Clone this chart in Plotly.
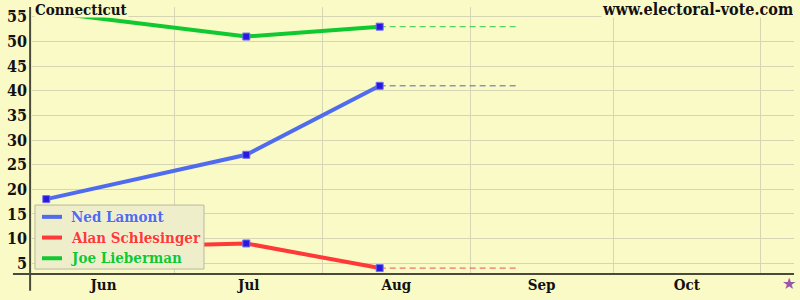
import plotly.graph_objects as go

dates = ["2006-06-04", "2006-07-16", "2006-08-13"]
proj_end = "2006-09-11"
election_day = "2006-11-07"
names = ["Ned Lamont", "Alan Schlesinger", "Joe Lieberman"]
lamont = [18, 27, 41]
schlesinger = [8, 9, 4]
lieberman = [56, 51, 53]
series = [lamont, schlesinger, lieberman]
colors = ["#4F6BEE", "#FF3838", "#10C830"]
dash_colors = ["#5A62B0", "#F05050", "#30C850"]
y_ticks = [5, 10, 15, 20, 25, 30, 35, 40, 45, 50, 55]

BG = "#FAFAC6"
GRID = "#D6D6B4"
FONT = "DejaVu Serif Condensed, DejaVu Serif"

fig = go.Figure()
for name, vals, col, dcol in zip(names, series, colors, dash_colors):
    fig.add_trace(go.Scatter(
        x=dates, y=vals, mode="lines", line=dict(color=col, width=4),
        name=name, showlegend=False))
    fig.add_trace(go.Scatter(
        x=[dates[-1], proj_end], y=[vals[-1], vals[-1]], mode="lines",
        line=dict(color=dcol, width=1, dash="6px,4px"), name=name,
        showlegend=False))
for name, vals in zip(names, series):
    fig.add_trace(go.Scatter(
        x=dates, y=vals, mode="markers", name=name,
        marker=dict(symbol="square", size=7, color="#2818E0",
                    line=dict(color="#7070F0", width=1)),
        showlegend=False))

fig.update_layout(
    width=800, height=300,
    margin=dict(l=32, r=6, t=7, b=22),
    paper_bgcolor=BG, plot_bgcolor=BG,
    font=dict(family=FONT, size=15, color="#111111"),
    showlegend=False,
    xaxis=dict(
        type="date", range=["2006-06-01", "2006-11-08"],
        tick0="2006-06-01", dtick="M1", tickformat="%b",
        ticklabelmode="period", showgrid=True, gridcolor=GRID, gridwidth=1,
        ticks="", showline=False, zeroline=False,
        tickfont=dict(family=FONT, size=15, weight="bold")),
    yaxis=dict(
        range=[2.8, 57.0], tickvals=y_ticks, showgrid=True,
        gridcolor=GRID, gridwidth=1, ticks="", showline=False,
        zeroline=False, ticklabelstandoff=4,
        tickfont=dict(family=FONT, size=16, weight="bold")),
)

# axis lines
fig.add_shape(type="line", xref="paper", yref="paper",
              x0=-0.025, x1=1.0, y0=0, y1=0,
              line=dict(color="#4A4A3A", width=2))
fig.add_shape(type="line", xref="paper", yref="paper",
              x0=-0.0025, x1=-0.0025, y0=-0.0627, y1=1.0,
              line=dict(color="#4A4A3A", width=2))

# legend box (drawn above the traces)
fig.add_shape(type="rect", xref="paper", yref="paper", layer="above",
              x0=0.0039, x1=0.2257, y0=0.0185, y1=0.2583,
              fillcolor="#EEEECA", line=dict(color="#B8B8A0", width=1))
row_y = [0.214, 0.1365, 0.059]
for name, col, ry in zip(names, colors, row_y):
    fig.add_shape(type="line", xref="paper", yref="paper", layer="above",
                  x0=0.0131, x1=0.0394, y0=ry, y1=ry,
                  line=dict(color=col, width=4))
    fig.add_annotation(text=name, xref="paper", yref="paper",
                       x=0.0499, y=ry, xanchor="left", yanchor="middle",
                       showarrow=False, borderpad=0,
                       font=dict(family=FONT, size=15, weight="bold",
                                 color=col, shadow="0px 0px 2px #FFFFF0"))

fig.add_annotation(text="★", xref="x", yref="paper",
                   x=election_day, y=-0.0369, yanchor="middle",
                   showarrow=False,
                   font=dict(family="DejaVu Sans", size=16, color="#9A55A8"))

fig.add_annotation(text="Connecticut", xref="paper", yref="paper",
                   x=0.002, y=1.022, xanchor="left", yanchor="top",
                   height=15, valign="middle",
                   showarrow=False, borderpad=0, bgcolor=BG,
                   font=dict(family=FONT, size=15, weight="bold", color="#111111"))
fig.add_annotation(text="www.electoral-vote.com", xref="paper", yref="paper",
                   x=1.0, y=1.022, xanchor="right", yanchor="top",
                   height=15, valign="middle",
                   showarrow=False, borderpad=0, bgcolor=BG,
                   font=dict(family=FONT, size=16, weight="bold", color="#111111"))

fig.write_html("out.html")
